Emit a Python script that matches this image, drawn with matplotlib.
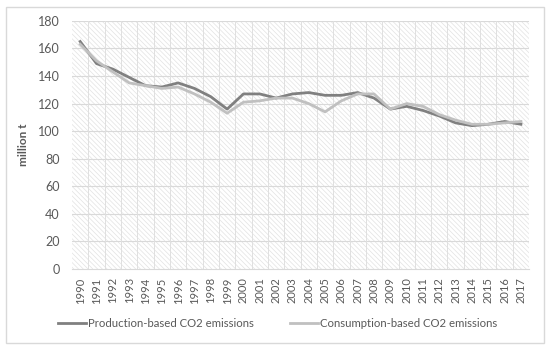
import numpy as np
import matplotlib.pyplot as plt
from matplotlib.patches import Rectangle

plt.rcParams['font.family'] = ['Lato', 'DejaVu Sans']
plt.rcParams['hatch.linewidth'] = 0.5

# data (million t CO2)
years = [str(y) for y in range(1990, 2018)]
production = [165, 149, 145, 139, 133, 132, 135, 131, 125, 116,
              127, 127, 124, 127, 128, 126, 126, 128, 124, 116,
              118, 115, 111, 106, 104, 105, 107, 105]
consumption = [163, 151, 143, 135, 133, 131, 132, 127, 121, 113,
               121, 122, 124, 124, 120, 114, 122, 127, 127, 116,
               120, 118, 112, 108, 105, 105, 106, 107]

fig = plt.figure(figsize=(5.5, 3.48), dpi=100)
ax = fig.add_axes([0.131, 0.227, 0.831, 0.713])

# hatched plot background
ax.patch.set_facecolor('white')
ax.patch.set_hatch('\\\\\\\\\\\\\\')
ax.patch.set_edgecolor('#e2e2e2')
ax.patch.set_linewidth(0)

x = np.arange(len(years))
ax.plot(x, production, color='#808080', lw=2.0, label='Production-based CO2 emissions', zorder=3)
ax.plot(x, consumption, color='#c0c0c0', lw=2.0, label='Consumption-based CO2 emissions', zorder=3)

ax.set_xlim(-0.5, len(years) - 0.5)
ax.set_ylim(0, 180)
ax.set_yticks(range(0, 181, 20))
ax.set_xticks(x)
ax.set_xticklabels(years, rotation=90)

# gridlines: horizontal at ticks, vertical between categories
for v in range(20, 181, 20):
    ax.axhline(v, color='#d9d9d9', lw=0.8, zorder=1)
for b in np.arange(0.5, len(years) - 0.5, 1):
    ax.axvline(b, color='#e0e0e0', lw=0.7, zorder=1)

for s in ['top', 'right', 'left']:
    ax.spines[s].set_visible(False)
ax.spines['bottom'].set_color('#d9d9d9')
ax.tick_params(axis='both', length=0, colors='#595959')
ax.tick_params(axis='x', labelsize=8, pad=6)
ax.tick_params(axis='y', labelsize=9, pad=9)

ax.set_ylabel('million t', fontsize=8.5, fontweight='bold', color='#595959', labelpad=6)

fig.legend(loc='lower center', bbox_to_anchor=(0.505, 0.025), ncol=2, frameon=False,
           fontsize=8.2, labelcolor='#595959', handlelength=2.4, handletextpad=0.2,
           columnspacing=3.2)

# outer chart border
fig.patches.append(Rectangle((0.011, 0.014), 0.978, 0.966, transform=fig.transFigure,
                             fill=False, edgecolor='#d9d9d9', lw=1))

plt.savefig('out.png', dpi=100)
